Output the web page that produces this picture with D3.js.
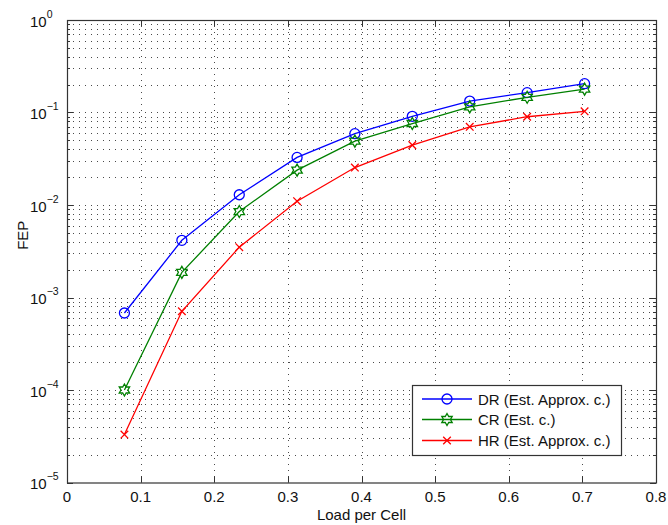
<!DOCTYPE html>
<html>
<head>
<meta charset="utf-8">
<script src="https://cdn.jsdelivr.net/npm/d3@7"></script>
<style>
  html, body { margin: 0; padding: 0; background: #fff; }
  svg { display: block; font-family: "Liberation Sans", Arial, Helvetica, sans-serif; }
</style>
</head>
<body>
<svg id="chart" width="668" height="525"></svg>
<script>
// Load per cell (x) and frame error probability for each scheme
const loads = [0.078, 0.156, 0.234, 0.3125, 0.391, 0.469, 0.547, 0.625, 0.703];
const drValues = [6.8e-4, 4.15e-3, 0.0129, 0.0327, 0.059, 0.091, 0.133, 0.164, 0.205];
const crValues = [1.0e-4, 1.87e-3, 8.5e-3, 0.0238, 0.049, 0.076, 0.115, 0.146, 0.179];
const hrValues = [3.3e-5, 7.1e-4, 3.5e-3, 0.011, 0.0254, 0.0444, 0.070, 0.090, 0.103];

const seriesNames = ["DR (Est. Approx. c.)", "CR (Est. c.)", "HR (Est. Approx. c.)"];
const xTicks = [0, 0.1, 0.2, 0.3, 0.4, 0.5, 0.6, 0.7, 0.8];
const yExponents = [0, -1, -2, -3, -4, -5];
const xLabel = "Load per Cell";
const yLabel = "FEP";

const series = [
  { name: seriesNames[0], values: drValues, color: "#0000ff", marker: "circle" },
  { name: seriesNames[1], values: crValues, color: "#008000", marker: "hexagram" },
  { name: seriesNames[2], values: hrValues, color: "#ff0000", marker: "cross" }
];

const svg = d3.select("#chart");
const L = 67, R = 656, T = 20, B = 482.5;

const x = d3.scaleLinear().domain([0, 0.8]).range([L, R]);
const y = d3.scaleLog().domain([1e-5, 1]).range([B, T]);

const gridColor = "#4a4a4a";
const axisColor = "#333";

// minor + major log grid (horizontal), major grid (vertical)
const yGridVals = [];
for (let e = -5; e < 0; e++) {
  for (let m = 1; m <= 9; m++) yGridVals.push(m * Math.pow(10, e));
}
yGridVals.push(1);

const grid = svg.append("g").attr("class", "grid");
grid.selectAll("line.h")
  .data(yGridVals.filter(v => v > 1e-5 && v < 1))
  .join("line")
  .attr("class", "h")
  .attr("x1", L).attr("x2", R)
  .attr("y1", d => Math.round(y(d)) + 0.5).attr("y2", d => Math.round(y(d)) + 0.5)
  .attr("stroke", gridColor).attr("stroke-width", 1)
  .attr("stroke-dasharray", "1,5");

grid.selectAll("line.v")
  .data(xTicks.filter(v => v > 0 && v < 0.8))
  .join("line")
  .attr("class", "v")
  .attr("x1", d => Math.round(x(d)) + 0.5).attr("x2", d => Math.round(x(d)) + 0.5)
  .attr("y1", T).attr("y2", B)
  .attr("stroke", gridColor).attr("stroke-width", 1)
  .attr("stroke-dasharray", "1,5");

// inward ticks on all four sides
const ticks = svg.append("g").attr("stroke", axisColor).attr("stroke-width", 1);
xTicks.forEach(v => {
  const px = Math.round(x(v)) + 0.5;
  ticks.append("line").attr("x1", px).attr("x2", px).attr("y1", B).attr("y2", B - 6);
  ticks.append("line").attr("x1", px).attr("x2", px).attr("y1", T).attr("y2", T + 6);
});
yGridVals.forEach(v => {
  const py = Math.round(y(v)) + 0.5;
  const major = Math.abs(Math.log10(v) - Math.round(Math.log10(v))) < 1e-9;
  const len = major ? 6 : 3;
  ticks.append("line").attr("x1", L).attr("x2", L + len).attr("y1", py).attr("y2", py);
  ticks.append("line").attr("x1", R).attr("x2", R - len).attr("y1", py).attr("y2", py);
});

// axes box
svg.append("rect")
  .attr("x", L + 0.5).attr("y", T + 0.5)
  .attr("width", R - L).attr("height", B - T)
  .attr("fill", "none").attr("stroke", axisColor).attr("stroke-width", 1.2);

// tick labels
const xAxisG = svg.append("g");
xAxisG.selectAll("text")
  .data(xTicks)
  .join("text")
  .attr("x", d => x(d))
  .attr("y", 502)
  .attr("text-anchor", "middle")
  .attr("font-size", 15)
  .attr("fill", "#111")
  .text(d => d === 0 ? "0" : d3.format(".1f")(d));

const yAxisG = svg.append("g");
yExponents.forEach(e => {
  const py = y(Math.pow(10, e));
  const t = yAxisG.append("text")
    .attr("x", 30)
    .attr("y", py + 6.5)
    .attr("font-size", 15)
    .attr("fill", "#111");
  t.append("tspan").text("10");
  t.append("tspan")
    .attr("font-size", 10.5)
    .attr("dy", -9)
    .text(e === 0 ? "0" : "\u2212" + Math.abs(e));
});

// axis titles
svg.append("text")
  .attr("x", (L + R) / 2)
  .attr("y", 520)
  .attr("text-anchor", "middle")
  .attr("font-size", 15)
  .attr("fill", "#111")
  .text(xLabel);

svg.append("text")
  .attr("transform", `translate(28, ${(T + B) / 2 - 16}) rotate(-90)`)
  .attr("text-anchor", "middle")
  .attr("font-size", 15)
  .attr("fill", "#111")
  .text(yLabel);

// marker shapes
function hexagramPath(r) {
  const pts = [];
  const ri = r / Math.sqrt(3);
  for (let i = 0; i < 12; i++) {
    const a = -Math.PI / 2 + i * Math.PI / 6;
    const rr = i % 2 === 0 ? r : ri;
    pts.push([rr * Math.cos(a), rr * Math.sin(a)]);
  }
  return "M" + pts.map(p => p[0].toFixed(2) + "," + p[1].toFixed(2)).join("L") + "Z";
}

function drawMarker(g, type, cx, cy, color) {
  if (type === "circle") {
    g.append("circle").attr("cx", cx).attr("cy", cy).attr("r", 5)
      .attr("fill", "none").attr("stroke", color).attr("stroke-width", 1.3);
  } else if (type === "hexagram") {
    g.append("path").attr("d", hexagramPath(6))
      .attr("transform", `translate(${cx},${cy})`)
      .attr("fill", "none").attr("stroke", color).attr("stroke-width", 1.3);
  } else {
    const s = 3.8;
    g.append("path")
      .attr("d", `M${cx - s},${cy - s}L${cx + s},${cy + s}M${cx - s},${cy + s}L${cx + s},${cy - s}`)
      .attr("stroke", color).attr("stroke-width", 1.3);
  }
}

const line = d3.line().x(d => x(d[0])).y(d => y(d[1]));

const plotG = svg.append("g");
series.forEach(s => {
  const pts = loads.map((l, i) => [l, s.values[i]]);
  plotG.append("path")
    .datum(pts)
    .attr("d", line)
    .attr("fill", "none")
    .attr("stroke", s.color)
    .attr("stroke-width", 1.3);
  pts.forEach(p => drawMarker(plotG, s.marker, x(p[0]), y(p[1]), s.color));
});

// legend
const lg = svg.append("g");
const lgX = 412.5, lgY = 385.5, lgW = 209, lgH = 70;
lg.append("rect")
  .attr("x", lgX).attr("y", lgY).attr("width", lgW).attr("height", lgH)
  .attr("fill", "#fff").attr("stroke", axisColor).attr("stroke-width", 1.2);
const rowY = [399, 419.5, 440.5];
series.forEach((s, i) => {
  const ry = rowY[i];
  lg.append("line")
    .attr("x1", 422).attr("x2", 472).attr("y1", ry).attr("y2", ry)
    .attr("stroke", s.color).attr("stroke-width", 1.3);
  drawMarker(lg, s.marker, 447, ry, s.color);
  lg.append("text")
    .attr("x", 478).attr("y", ry + 5.5)
    .attr("font-size", 15)
    .attr("fill", "#111")
    .text(s.name);
});
</script>
</body>
</html>
